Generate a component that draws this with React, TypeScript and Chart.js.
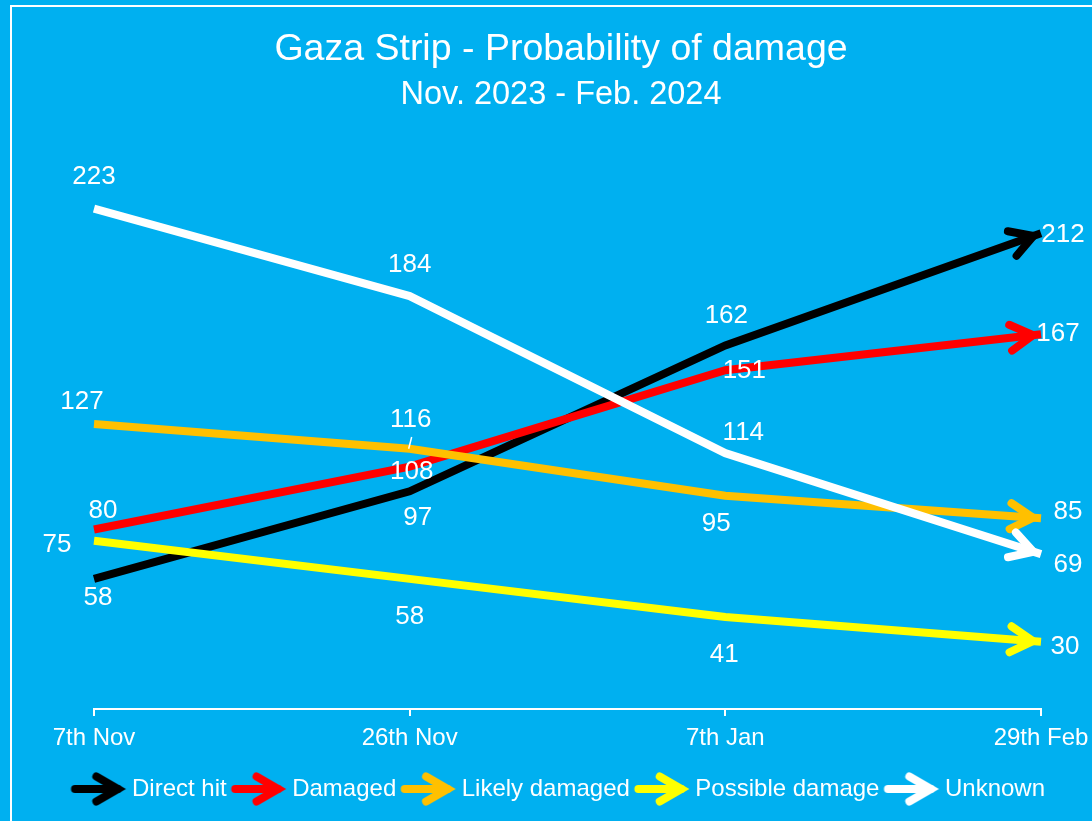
import React, { useEffect, useRef } from 'react';
import { Chart, registerables } from 'chart.js';

Chart.register(...registerables);

// ---------- data ----------
const categories = ['7th Nov', '26th Nov', '7th Jan', '29th Feb'];
const directHit = [58, 97, 162, 212];
const damaged = [80, 108, 151, 167];
const likelyDamaged = [127, 116, 95, 85];
const possibleDamage = [75, 58, 41, 30];
const unknown = [223, 184, 114, 69];

const seriesNames = ['Direct hit', 'Damaged', 'Likely damaged', 'Possible damage', 'Unknown'];
const seriesValues = [directHit, damaged, likelyDamaged, possibleDamage, unknown];
const seriesColors = ['#000000', '#FF0000', '#FFC000', '#FFFF00', '#FFFFFF'];

const yMin = 0;
const yMax = 250;

const titleText = 'Gaza Strip - Probability of damage';
const subtitleText = 'Nov. 2023 - Feb. 2024';

// ---------- styling ----------
const BG = '#00B0F0';
const FONT = "'Liberation Sans', Arial, Helvetica, sans-serif";
const LINE_W = 8;
const LABEL_SIZE = 26;
const ARROW_ANGLE = 30;
const ARROW_ARM = 26;

// label placement relative to each point (pixels): [dx, dy] to label centre
const labelOffsets: number[][][] = [
  [[4, 17], [8, 24], [1, -32], [22, -1]],
  [[9, -21], [2, 3], [19, -1], [17, -3]],
  [[-12, -24], [1, -31], [-9, 26], [27, -9]],
  [[-37, 2], [0, 36], [-1, 36], [24, 3]],
  [[0, -34], [0, -33], [18, -22], [27, 9]],
];
// labels that get a small leader line: [series, point]
const leaderLabels: number[][] = [[2, 1]];

function makeArrowIcon(color: string): HTMLCanvasElement {
  const c = document.createElement('canvas');
  c.width = 60;
  c.height = 40;
  const ctx = c.getContext('2d')!;
  const lw = 8;
  const cy = 20;
  const ang = (ARROW_ANGLE * Math.PI) / 180;
  const armLen = 25;
  const tipX = 57.5;
  const vx = tipX - lw / 2 / Math.sin(ang);
  ctx.strokeStyle = color;
  ctx.lineWidth = lw;
  ctx.lineCap = 'round';
  ctx.beginPath();
  ctx.moveTo(6.5, cy);
  ctx.lineTo(vx, cy);
  ctx.stroke();
  ctx.lineJoin = 'miter';
  ctx.beginPath();
  ctx.moveTo(vx - armLen * Math.cos(ang), cy - armLen * Math.sin(ang));
  ctx.lineTo(vx, cy);
  ctx.lineTo(vx - armLen * Math.cos(ang), cy + armLen * Math.sin(ang));
  ctx.stroke();
  return c;
}

const backgroundPlugin = {
  id: 'bgFrame',
  beforeDraw(chart: any) {
    const { ctx, width, height } = chart;
    ctx.save();
    ctx.fillStyle = BG;
    ctx.fillRect(0, 0, width, height);
    ctx.strokeStyle = '#FFFFFF';
    ctx.lineWidth = 2;
    ctx.strokeRect(11, 6, width + 50, height + 50);
    ctx.restore();
  },
};

const arrowPlugin = {
  id: 'arrowHeads',
  afterDatasetDraw(chart: any, args: any) {
    const meta = args.meta;
    const pts = meta.data;
    if (!pts || pts.length < 2) return;
    const P = pts[pts.length - 1];
    const Q = pts[pts.length - 2];
    let dx = P.x - Q.x;
    let dy = P.y - Q.y;
    const len = Math.hypot(dx, dy) || 1;
    dx /= len;
    dy /= len;
    const ang = (ARROW_ANGLE * Math.PI) / 180;
    const ext = LINE_W / 2 / Math.sin(ang);
    const vx = P.x - dx * ext;
    const vy = P.y - dy * ext;
    const bx = -dx;
    const by = -dy;
    const r1x = bx * Math.cos(ang) - by * Math.sin(ang);
    const r1y = bx * Math.sin(ang) + by * Math.cos(ang);
    const r2x = bx * Math.cos(-ang) - by * Math.sin(-ang);
    const r2y = bx * Math.sin(-ang) + by * Math.cos(-ang);
    const ctx = chart.ctx;
    const ds = chart.data.datasets[args.index];
    ctx.save();
    ctx.strokeStyle = ds.borderColor;
    ctx.lineWidth = LINE_W;
    ctx.lineCap = 'round';
    ctx.lineJoin = 'miter';
    ctx.beginPath();
    ctx.moveTo(vx + r1x * ARROW_ARM, vy + r1y * ARROW_ARM);
    ctx.lineTo(vx, vy);
    ctx.lineTo(vx + r2x * ARROW_ARM, vy + r2y * ARROW_ARM);
    ctx.stroke();
    ctx.restore();
  },
};

const labelPlugin = {
  id: 'valueLabels',
  afterDatasetsDraw(chart: any) {
    const ctx = chart.ctx;
    ctx.save();
    ctx.fillStyle = '#FFFFFF';
    ctx.strokeStyle = '#FFFFFF';
    ctx.font = `${LABEL_SIZE}px ${FONT}`;
    ctx.textAlign = 'center';
    ctx.textBaseline = 'alphabetic';
    chart.data.datasets.forEach((ds: any, i: number) => {
      const meta = chart.getDatasetMeta(i);
      meta.data.forEach((pt: any, j: number) => {
        const off = labelOffsets[i][j];
        const lx = pt.x + off[0];
        const ly = pt.y + off[1];
        ctx.fillText(String(ds.data[j]), lx, ly + LABEL_SIZE * 0.358);
        if (leaderLabels.some((l) => l[0] === i && l[1] === j)) {
          ctx.lineWidth = 1.5;
          ctx.beginPath();
          ctx.moveTo(lx + 1, ly + LABEL_SIZE * 0.36 + 10);
          ctx.lineTo(pt.x - 1, pt.y);
          ctx.stroke();
        }
      });
    });
    ctx.restore();
  },
};

export default function App() {
  const canvasRef = useRef<HTMLCanvasElement | null>(null);

  useEffect(() => {
    document.body.style.margin = '0';
    document.body.style.background = BG;
    document.documentElement.style.overflow = 'hidden';
    const canvas = canvasRef.current;
    if (!canvas) return;

    Chart.defaults.font.family = FONT;

    const datasets = seriesNames.map((name, i) => ({
      label: name,
      data: seriesValues[i],
      borderColor: seriesColors[i],
      backgroundColor: seriesColors[i],
      borderWidth: LINE_W,
      pointRadius: 0,
      pointHoverRadius: 0,
      pointStyle: makeArrowIcon(seriesColors[i]) as any,
      tension: 0,
      fill: false,
      order: seriesNames.length - 1 - i,
    }));

    const chart = new Chart(canvas, {
      type: 'line',
      data: { labels: categories, datasets },
      plugins: [backgroundPlugin, arrowPlugin, labelPlugin],
      options: {
        animation: false,
        responsive: true,
        maintainAspectRatio: false,
        events: [],
        layout: { padding: { left: 40, right: 10, top: 0, bottom: 10 } },
        scales: {
          x: {
            type: 'category',
            offset: false,
            grid: {
              display: true,
              drawOnChartArea: false,
              drawTicks: true,
              tickLength: 7,
              color: '#FFFFFF',
              lineWidth: 2,
            },
            border: { display: true, color: '#FFFFFF', width: 2 },
            ticks: {
              color: '#FFFFFF',
              font: { size: 24 },
              padding: 8,
              maxRotation: 0,
              autoSkip: false,
            },
            afterFit: (s: any) => {
              s.height = 57.5;
              s.paddingLeft = 0;
              s.paddingRight = 0;
            },
          },
          y: {
            type: 'linear',
            min: yMin,
            max: yMax,
            display: true,
            grid: { display: false },
            border: { display: false },
            ticks: { display: false },
            afterFit: (s: any) => {
              s.width = 54;
            },
          },
          y2: {
            type: 'linear',
            position: 'right',
            display: true,
            grid: { display: false },
            border: { display: false },
            ticks: { display: false },
            afterFit: (s: any) => {
              s.width = 41;
            },
          },
        },
        plugins: {
          title: {
            display: true,
            text: titleText,
            color: '#FFFFFF',
            font: { size: 37.5, weight: 'normal' },
            padding: { top: 27, bottom: 0 },
          },
          subtitle: {
            display: true,
            text: subtitleText,
            color: '#FFFFFF',
            font: { size: 32.5, weight: 'normal' },
            padding: { top: 4, bottom: 33 },
          },
          legend: {
            display: true,
            position: 'bottom',
            reverse: true,
            labels: {
              usePointStyle: true,
              pointStyleWidth: 43,
              color: '#FFFFFF',
              font: { size: 24 },
              padding: 10.5,
            },
          },
          tooltip: { enabled: false },
        },
      } as any,
    });

    return () => {
      chart.destroy();
    };
  }, []);

  return (
    <div style={{ width: 1092, height: 821, position: 'relative' }}>
      <canvas ref={canvasRef} />
    </div>
  );
}
